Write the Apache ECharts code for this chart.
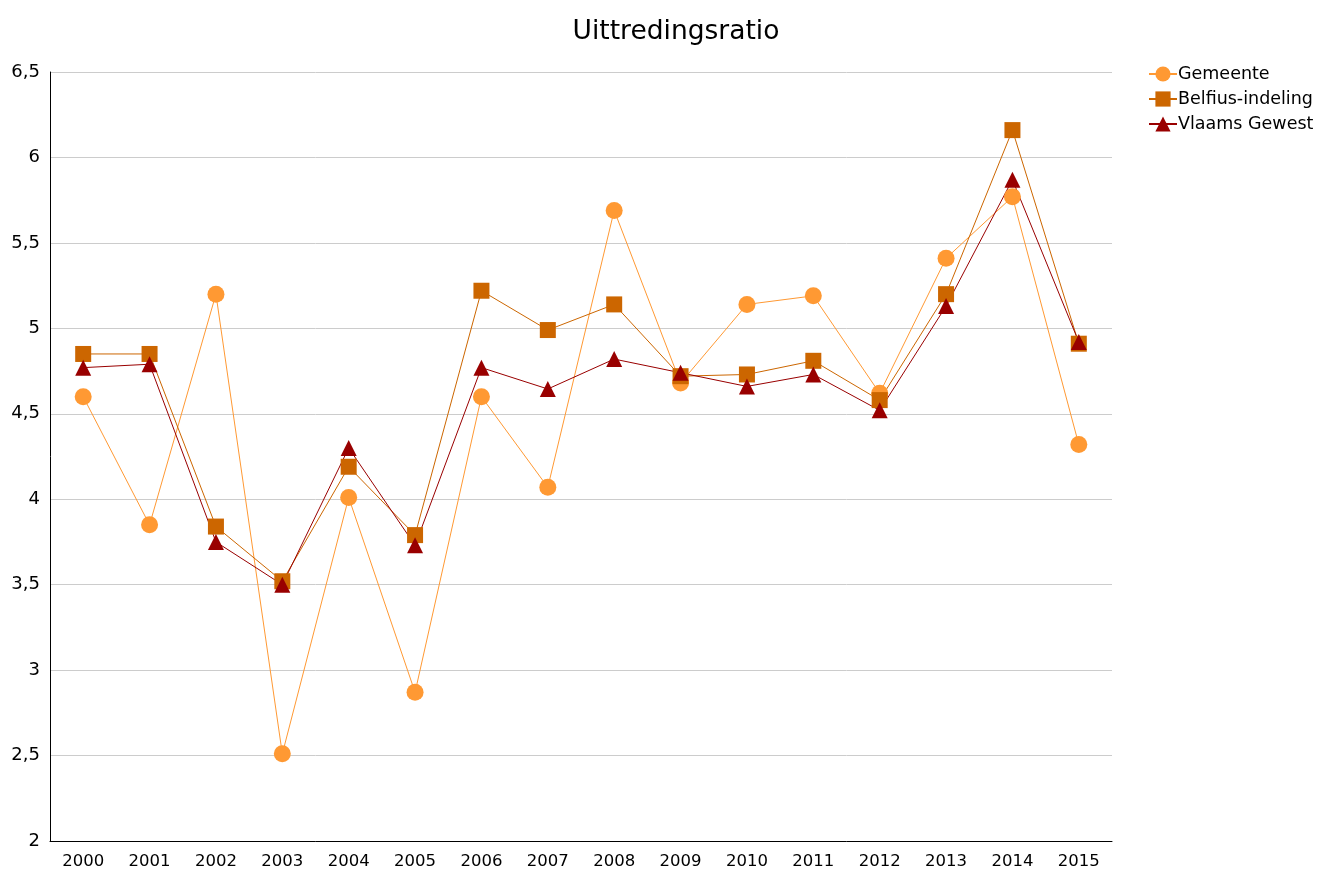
<!DOCTYPE html>
<html>
<head>
<meta charset="utf-8">
<script src="https://cdn.jsdelivr.net/npm/echarts@6/dist/echarts.min.js"></script>
<style>
  html, body { margin: 0; padding: 0; background: #fff; }
  #chart { width: 1317px; height: 875px; }
</style>
</head>
<body>
<div id="chart"></div>
<script>
// Jaartallen op de x-as
const years = ['2000','2001','2002','2003','2004','2005','2006','2007','2008','2009','2010','2011','2012','2013','2014','2015'];

// Uittredingsratio per reeks
const gemeente = [4.60, 3.85, 5.20, 2.51, 4.01, 2.87, 4.60, 4.07, 5.69, 4.68, 5.14, 5.19, 4.62, 5.41, 5.77, 4.32];
const belfius  = [4.85, 4.85, 3.84, 3.52, 4.19, 3.79, 5.22, 4.99, 5.14, 4.72, 4.73, 4.81, 4.58, 5.20, 6.16, 4.91];
const vlaams   = [4.77, 4.79, 3.75, 3.50, 4.30, 3.73, 4.77, 4.645, 4.82, 4.74, 4.66, 4.73, 4.52, 5.13, 5.87, 4.92];

const seriesNames = ['Gemeente', 'Belfius-indeling', 'Vlaams Gewest'];

const FONT = 'DejaVu Sans';

const chart = echarts.init(document.getElementById('chart'), null, { renderer: 'canvas' });

function lineSeries(name, data, color, symbol, size) {
  return {
    name: name,
    type: 'line',
    data: data,
    symbol: symbol,
    symbolSize: size,
    showAllSymbol: true,
    lineStyle: { color: color, width: 1 },
    itemStyle: { color: color },
    emphasis: { disabled: true },
    animation: false
  };
}

chart.setOption({
  backgroundColor: '#ffffff',
  title: {
    text: 'Uittredingsratio',
    left: 671,
    textAlign: 'center',
    top: 14,
    textStyle: { fontFamily: FONT, fontSize: 26.5, fontWeight: 'normal', color: '#000' }
  },
  legend: {
    data: seriesNames,
    orient: 'vertical',
    left: 1143,
    top: 60,
    itemWidth: 28,
    itemHeight: 19,
    itemGap: 7,
    textStyle: { fontFamily: FONT, fontSize: 17.5, color: '#000', padding: [0, 0, 0, -4] }
  },
  grid: { left: 50, right: 205, top: 72, bottom: 34, containLabel: false },
  xAxis: {
    type: 'category',
    data: years,
    boundaryGap: true,
    axisLine: { lineStyle: { color: '#000', width: 1 } },
    axisTick: { show: false },
    axisLabel: { fontFamily: FONT, fontSize: 16.5, color: '#000', margin: 12, interval: 0 },
    splitLine: { show: false }
  },
  yAxis: {
    type: 'value',
    min: 2,
    max: 6.5,
    interval: 0.5,
    axisLine: { show: true, lineStyle: { color: '#000', width: 1 } },
    axisTick: { show: false },
    axisLabel: {
      fontFamily: FONT, fontSize: 18, color: '#000', margin: 10,
      formatter: v => String(v).replace('.', ',')
    },
    splitLine: { lineStyle: { color: '#cccccc', width: 1 } }
  },
  series: [
    lineSeries(seriesNames[0], gemeente, '#ff9933', 'circle', 17),
    lineSeries(seriesNames[1], belfius, '#cc6600', 'rect', 16),
    lineSeries(seriesNames[2], vlaams, '#990000', 'triangle', 16)
  ]
});
</script>
</body>
</html>
